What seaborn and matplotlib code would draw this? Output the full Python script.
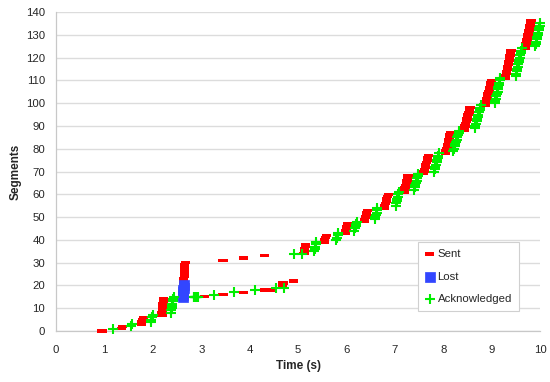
import matplotlib
matplotlib.use("Agg")
import matplotlib.pyplot as plt
import seaborn as sns
import numpy as np

# --- data (time in s, segment number) ---
sent_t = [
    0.95,
    1.35, 1.37,
    1.76, 1.77, 1.79, 1.80,
    2.19, 2.19, 2.20, 2.20, 2.21, 2.21, 2.22, 2.22,
    2.62, 2.62, 2.62, 2.63, 2.63, 2.63, 2.64, 2.64,
    2.64, 2.65, 2.65, 2.65, 2.66, 2.66, 2.66, 2.67,
    3.06, 3.45, 3.45, 3.88, 3.88, 4.30, 4.30, 4.45, 4.67, 4.69, 4.90,
    5.12, 5.13, 5.14, 5.15, 5.16,
    5.54, 5.55, 5.57, 5.58,
    5.98, 5.99, 6.00, 6.01, 6.02,
    6.37, 6.38, 6.39, 6.41, 6.42, 6.43,
    6.78, 6.79, 6.81, 6.82, 6.83, 6.85, 6.86,
    7.19, 7.20, 7.21, 7.22, 7.24, 7.25, 7.26, 7.27,
    7.59, 7.60, 7.61, 7.63, 7.64, 7.65, 7.67, 7.68, 7.69,
    8.04, 8.05, 8.06, 8.08, 8.09, 8.10, 8.11, 8.13, 8.14, 8.15,
    8.43, 8.44, 8.45, 8.46, 8.48, 8.49, 8.50, 8.51, 8.53, 8.54, 8.55,
    8.87, 8.88, 8.89, 8.90, 8.91, 8.92, 8.94, 8.95, 8.96, 8.97, 8.98, 8.99,
    9.28, 9.29, 9.30, 9.31, 9.32, 9.33, 9.34, 9.35, 9.36, 9.37, 9.38, 9.39, 9.40,
    9.69, 9.70, 9.71, 9.72, 9.73, 9.74, 9.75, 9.76, 9.77, 9.78, 9.79, 9.80, 9.81,
]
sent_seg = [
    0,
    1, 2,
    3, 4, 5, 6,
    7, 8, 9, 10, 11, 12, 13, 14,
    15, 16, 17, 18, 19, 20, 21, 22,
    23, 24, 25, 26, 27, 28, 29, 30,
    15, 16, 31, 17, 32, 18, 33, 18, 20, 21, 22,
    34, 35, 36, 37, 38,
    39, 40, 41, 42,
    43, 44, 45, 46, 47,
    48, 49, 50, 51, 52, 53,
    54, 55, 56, 57, 58, 59, 60,
    61, 62, 63, 64, 65, 66, 67, 68,
    69, 70, 71, 72, 73, 74, 75, 76, 77,
    78, 79, 80, 81, 82, 83, 84, 85, 86, 87,
    88, 89, 90, 91, 92, 93, 94, 95, 96, 97, 98,
    99, 100, 101, 102, 103, 104, 105, 106, 107, 108, 109, 110,
    111, 112, 113, 114, 115, 116, 117, 118, 119, 120, 121, 122, 123,
    124, 125, 126, 127, 128, 129, 130, 131, 132, 133, 134, 135, 136,
]

lost_t = [2.62, 2.62, 2.63, 2.63, 2.64, 2.64]
lost_seg = [15, 16, 17, 18, 19, 20]

ack_t = [
    1.17,
    1.55, 1.57,
    1.96, 1.97, 1.99, 2.00,
    2.37, 2.38, 2.39, 2.40, 2.40, 2.41, 2.42, 2.43,
    2.84, 2.85, 2.86, 2.87, 2.88, 2.89, 2.90, 2.91, 2.92, 2.93,
    3.26, 3.68, 4.10, 4.55, 4.70, 4.92, 5.08,
    5.33, 5.34, 5.35, 5.36, 5.37,
    5.79, 5.80, 5.82, 5.83,
    6.16, 6.17, 6.19, 6.20, 6.21,
    6.58, 6.59, 6.60, 6.62, 6.63, 6.64,
    7.02, 7.03, 7.04, 7.05, 7.06, 7.07, 7.08,
    7.40, 7.41, 7.42, 7.43, 7.45, 7.46, 7.47, 7.48,
    7.81, 7.82, 7.83, 7.85, 7.86, 7.87, 7.89, 7.90, 7.91,
    8.21, 8.22, 8.24, 8.25, 8.26, 8.28, 8.29, 8.30, 8.32, 8.33,
    8.65, 8.66, 8.67, 8.69, 8.70, 8.71, 8.72, 8.74, 8.75, 8.76, 8.77,
    9.06, 9.07, 9.08, 9.09, 9.10, 9.12, 9.13, 9.14, 9.15, 9.16, 9.17, 9.18,
    9.50, 9.51, 9.52, 9.53, 9.54, 9.55, 9.56, 9.57, 9.58, 9.59, 9.60, 9.61, 9.62,
    9.90, 9.91, 9.92, 9.93, 9.94, 9.95, 9.96, 9.97, 9.98, 9.99, 10.00,
]
ack_seg = [
    1,
    2, 3,
    4, 5, 6, 7,
    8, 9, 10, 11, 12, 13, 14, 15,
    15, 15, 15, 15, 15, 15, 15, 15, 15, 15,
    16, 17, 18, 19, 19, 34, 34,
    35, 36, 37, 38, 39,
    40, 41, 42, 43,
    44, 45, 46, 47, 48,
    49, 50, 51, 52, 53, 54,
    55, 56, 57, 58, 59, 60, 61,
    62, 63, 64, 65, 66, 67, 68, 69,
    70, 71, 72, 73, 74, 75, 76, 77, 78,
    79, 80, 81, 82, 83, 84, 85, 86, 87, 88,
    89, 90, 91, 92, 93, 94, 95, 96, 97, 98, 99,
    100, 101, 102, 103, 104, 105, 106, 107, 108, 109, 110, 111,
    112, 113, 114, 115, 116, 117, 118, 119, 120, 121, 122, 123, 124,
    125, 126, 127, 128, 129, 130, 131, 132, 133, 134, 135,
]

x_ticks = list(range(0, 11))
y_ticks = list(range(0, 141, 10))

sns.set_style("white")
plt.rcParams['font.family'] = ['Liberation Sans', 'DejaVu Sans']

fig = plt.figure(figsize=(5.5, 3.82), dpi=100)
ax = fig.add_axes([0.102, 0.1335, 0.880, 0.835])

# flat dash marker for "Sent"
dash = [(-1, -0.36), (1, -0.36), (1, 0.36), (-1, 0.36), (-1, -0.36)]

sns.scatterplot(x=sent_t, y=sent_seg, marker=dash, s=44, color='#ff0000',
                edgecolor='none', linewidth=0, label='Sent', ax=ax,
                clip_on=False, zorder=3)
sns.scatterplot(x=lost_t, y=lost_seg, marker='s', s=50, color='#3246ff',
                edgecolor='#3246ff', linewidth=0.5, label='Lost', ax=ax,
                clip_on=False, zorder=4)
sns.scatterplot(x=ack_t, y=ack_seg, marker='+', s=50, color='#00ee00',
                linewidth=1.5, label='Acknowledged', ax=ax,
                clip_on=False, zorder=5)

ax.set_xlim(0, 10)
ax.set_ylim(0, 140)
ax.set_xticks(x_ticks)
ax.set_yticks(y_ticks)
ax.set_axisbelow(True)
ax.yaxis.grid(True, color='#dcdcdc', linewidth=1.0)
ax.xaxis.grid(False)

for side in ['top', 'right']:
    ax.spines[side].set_visible(False)
for side in ['left', 'bottom']:
    ax.spines[side].set_color('#c8c8c8')
    ax.spines[side].set_linewidth(0.9)

ax.tick_params(axis='x', length=3, width=0.8, color='#b0b0b0', pad=7, labelsize=8.2)
ax.tick_params(axis='y', length=4, width=0.8, color='#b0b0b0', pad=4, labelsize=8.2)

ax.set_xlabel('Time (s)', fontsize=8.5, fontweight='bold', labelpad=4)
ax.set_ylabel('Segments', fontsize=8.5, fontweight='bold', labelpad=3)

leg = ax.legend(loc='lower left', bbox_to_anchor=(0.748, 0.063), borderaxespad=0,
                fontsize=8.2, frameon=True, fancybox=False, framealpha=1,
                edgecolor='#d0d0d0', handlelength=0.8, handletextpad=0.3,
                labelspacing=1.1, borderpad=0.6, markerscale=1.0)
leg.get_frame().set_linewidth(0.8)

plt.savefig('out.png', dpi=100)
